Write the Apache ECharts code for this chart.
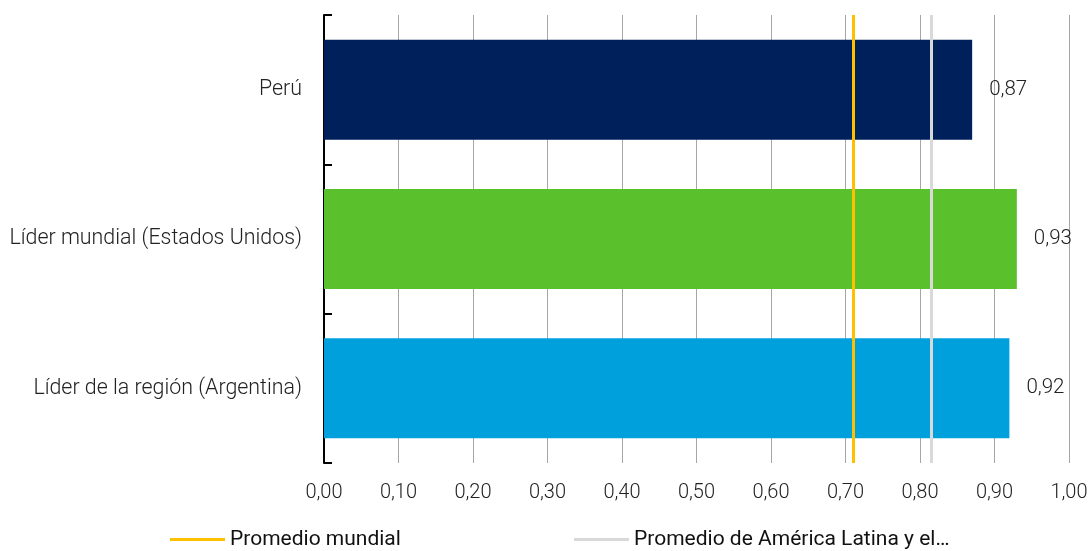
<!DOCTYPE html>
<html>
<head>
<meta charset="utf-8">
<script src="https://cdn.jsdelivr.net/npm/echarts@6/dist/echarts.min.js"></script>
<style>
  html, body { margin: 0; padding: 0; background: #fff; }
  #chart { width: 1091px; height: 551px; }
</style>
</head>
<body>
<div id="chart"></div>
<script>
// Categories (top to bottom) and index values
const categories = ['Perú', 'Líder mundial (Estados Unidos)', 'Líder de la región (Argentina)'];
const values = [0.87, 0.93, 0.92];
const barColors = ['#00205C', '#5AC12D', '#00A0DC'];

// Reference averages drawn as vertical lines
const avgNames = ['Promedio mundial', 'Promedio de América Latina y el Caribe'];
const avgValues = [0.71, 0.815];
const avgColors = ['#FFC000', '#D9D9D9'];

const fmt = v => Number(v).toFixed(2).replace('.', ',');
const font = 'Roboto';
const maxLegendChars = 31;

const chart = echarts.init(document.getElementById('chart'));

const avgSeries = avgNames.map((name, i) => ({
  name: name,
  type: 'line',
  data: [],
  color: avgColors[i],
  lineStyle: { color: avgColors[i], width: 3 },
  itemStyle: { color: avgColors[i] },
  markLine: {
    silent: true,
    symbol: 'none',
    animation: false,
    precision: 3,
    label: { show: false },
    lineStyle: { color: avgColors[i], width: 3, type: 'solid' },
    data: [{ xAxis: avgValues[i] }]
  }
}));

// One legend block per average so each item sits at its own position
const legendLefts = [170, 574];
const legends = avgNames.map((name, i) => ({
  left: legendLefts[i],
  top: 529,
  padding: 0,
  itemWidth: 55,
  itemHeight: 3,
  data: [{ name: name, icon: 'rect' }],
  formatter: n => n.length > maxLegendChars ? n.slice(0, maxLegendChars) + '…' : n,
  textStyle: {
    fontFamily: font,
    fontSize: 21,
    color: '#111'
  }
}));

chart.setOption({
  animation: false,
  grid: { left: 324, right: 22, top: 15, bottom: 88, containLabel: false },
  xAxis: {
    type: 'value',
    min: 0,
    max: 1,
    interval: 0.1,
    axisLine: { show: false },
    axisTick: { show: false },
    splitLine: { show: true, lineStyle: { color: '#A6A6A6', width: 1 } },
    axisLabel: {
      formatter: fmt,
      fontFamily: font,
      fontWeight: 300,
      fontSize: 20,
      color: '#222',
      margin: 20
    }
  },
  yAxis: {
    type: 'category',
    data: categories,
    inverse: true,
    axisLine: { show: true, lineStyle: { color: '#000', width: 2 } },
    axisTick: { show: true, inside: true, length: 8, lineStyle: { color: '#000', width: 2 } },
    axisLabel: {
      fontFamily: font,
      fontWeight: 300,
      fontSize: 21.4,
      color: '#222',
      margin: 22
    }
  },
  legend: legends,
  series: [
    {
      type: 'bar',
      barWidth: 100,
      data: values.map((v, i) => ({ value: v, itemStyle: { color: barColors[i] } })),
      label: {
        show: true,
        position: 'right',
        distance: 17,
        formatter: p => fmt(p.value),
        fontFamily: font,
        fontWeight: 300,
        fontSize: 20.5,
        color: '#222'
      },
      z: 2
    },
    ...avgSeries
  ]
});
</script>
</body>
</html>
